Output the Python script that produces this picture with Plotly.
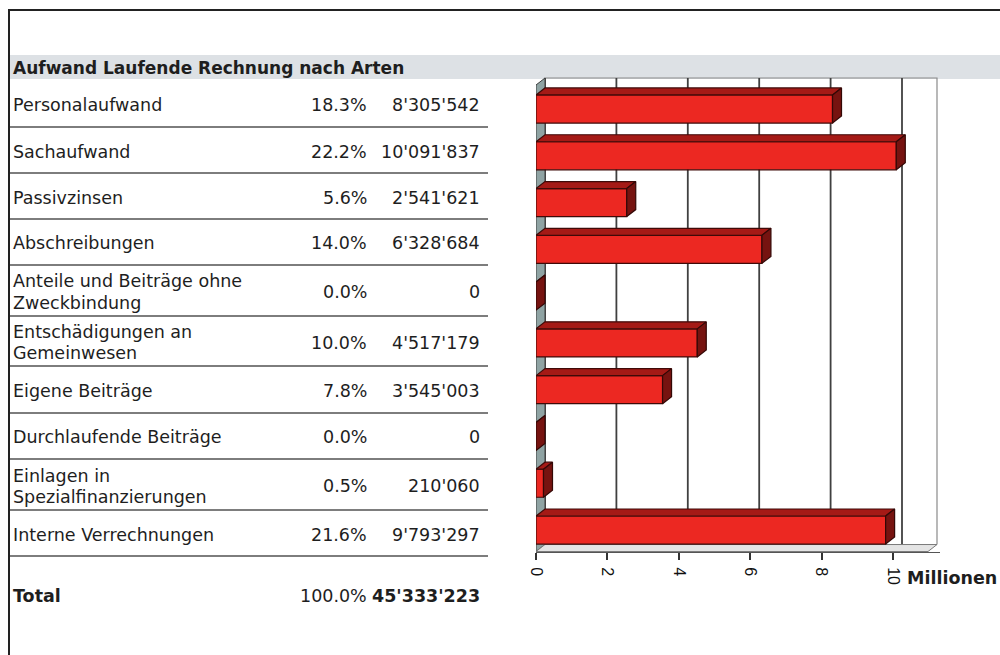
import plotly.graph_objects as go

# ---- data -------------------------------------------------------------
categories = [
    "Personalaufwand",
    "Sachaufwand",
    "Passivzinsen",
    "Abschreibungen",
    "Anteile und Beiträge ohne<br>Zweckbindung",
    "Entschädigungen an<br>Gemeinwesen",
    "Eigene Beiträge",
    "Durchlaufende Beiträge",
    "Einlagen in<br>Spezialfinanzierungen",
    "Interne Verrechnungen",
]
shares = ["18.3%", "22.2%", "5.6%", "14.0%", "0.0%", "10.0%", "7.8%", "0.0%", "0.5%", "21.6%"]
amounts = [8305542, 10091837, 2541621, 6328684, 0, 4517179, 3545003, 0, 210060, 9793297]
total_share = "100.0%"
total_amount = 45333223
tick_values = [0, 2, 4, 6, 8, 10]
title_text = "Aufwand Laufende Rechnung nach Arten"
unit_text = "Millionen"

# ---- page geometry (pixels on a 1000 x 655 page) ----------------------
W, H = 1000, 655


def px(x):
    return x / W


def py(y):
    return 1 - y / H


def fmt(v):
    return f"{v:,}".replace(",", "'")


# chart frame
PLOT_LEFT, PLOT_RIGHT = 536, 940
PLOT_TOP, PLOT_BOTTOM = 77, 552
PX_PER_M = 35.7
ROW0_PX, ROW_PITCH = 109, 46.78

X_MAX = (PLOT_RIGHT - PLOT_LEFT) / PX_PER_M
Y_TOP_RANGE = -(ROW0_PX - PLOT_TOP) / ROW_PITCH
Y_BOT_RANGE = (PLOT_BOTTOM - ROW0_PX) / ROW_PITCH

DX = 9 / PX_PER_M          # depth offset to the right
DY = 7 / ROW_PITCH         # depth offset upwards
BAR_W = 0.6
WALL_TOP = -(ROW0_PX - 78) / ROW_PITCH
FLOOR_FRONT = Y_BOT_RANGE - 0.01
FLOOR_BACK = FLOOR_FRONT - DY
WALL_RIGHT = (937 - PLOT_LEFT) / PX_PER_M

# table geometry
ROW_EDGES = [80, 127, 173, 219, 265, 316, 366, 413, 459, 510, 556]
LABEL_X, SHARE_X, AMOUNT_X = 11, 369, 482
TABLE_FONT = "DejaVu Sans"
TEXT_SIZE = 17.5
LINE_GAP = 21

values_m = [a / 1e6 for a in amounts]
positions = list(range(len(amounts)))

fig = go.Figure()

# front faces of the bars
fig.add_trace(go.Bar(
    x=values_m, y=positions, orientation="h", width=BAR_W,
    marker=dict(color="#ec2822", line=dict(color="#3f0a08", width=1.2)),
    hoverinfo="skip", showlegend=False,
))

# top and side faces of each bar, derived from the same values
top_x, top_y, side_x, side_y = [], [], [], []
for c, m in zip(positions, values_m):
    t, b = c - BAR_W / 2, c + BAR_W / 2
    top_x += [0, m, m + DX, DX, 0, None]
    top_y += [t, t, t - DY, t - DY, t, None]
    side_x += [m, m, m + DX, m + DX, m, None]
    side_y += [t, b, b - DY, t - DY, t, None]

fig.add_trace(go.Scatter(
    x=top_x, y=top_y, mode="lines", fill="toself", fillcolor="#a51a16",
    line=dict(color="#3f0a08", width=1.2), hoverinfo="skip", showlegend=False,
))
fig.add_trace(go.Scatter(
    x=side_x, y=side_y, mode="lines", fill="toself", fillcolor="#761310",
    line=dict(color="#330806", width=1.2), hoverinfo="skip", showlegend=False,
))

shapes = []

# back wall, gridlines, left wall and floor of the chart box
shapes.append(dict(
    type="path", xref="x", yref="y", layer="below",
    path=f"M {DX},{FLOOR_BACK} L {DX},{WALL_TOP} L {WALL_RIGHT},{WALL_TOP} L {WALL_RIGHT},{FLOOR_BACK}",
    line=dict(color="#8a8a8a", width=1.2),
))
for v in tick_values:
    shapes.append(dict(
        type="line", xref="x", yref="y", layer="below",
        x0=v + DX, x1=v + DX, y0=WALL_TOP, y1=FLOOR_BACK,
        line=dict(color="#404040", width=1.8),
    ))
shapes.append(dict(
    type="path", xref="x", yref="y", layer="below",
    path=f"M 0,{WALL_TOP + DY} L {DX},{WALL_TOP} L {DX},{FLOOR_BACK} L 0,{FLOOR_FRONT} Z",
    fillcolor="#8fa3a3", line=dict(color="#3d3d3d", width=1),
))
shapes.append(dict(
    type="path", xref="x", yref="y", layer="below",
    path=(f"M 0,{FLOOR_FRONT} L {DX},{FLOOR_BACK} L {WALL_RIGHT},{FLOOR_BACK} "
          f"L {WALL_RIGHT - DX},{FLOOR_FRONT} Z"),
    fillcolor="#e4e4e4", line=dict(color="#7a7a7a", width=1),
))

# header band
shapes.append(dict(
    type="rect", xref="paper", yref="paper", layer="below",
    x0=px(10), x1=1, y0=py(79), y1=py(55),
    fillcolor="#dde1e5", line=dict(width=0),
))
# table separators
for e in ROW_EDGES[1:]:
    shapes.append(dict(
        type="line", xref="paper", yref="paper",
        x0=px(10), x1=px(488), y0=py(e), y1=py(e),
        line=dict(color="#7d7d7d", width=2),
    ))
# outer frame
shapes.append(dict(type="line", xref="paper", yref="paper",
                   x0=px(8), x1=1, y0=py(10), y1=py(10),
                   line=dict(color="#222222", width=2)))
shapes.append(dict(type="line", xref="paper", yref="paper",
                   x0=px(9), x1=px(9), y0=py(10), y1=0,
                   line=dict(color="#222222", width=2)))


def note(x, y, text, anchor="left", bold=False, size=TEXT_SIZE):
    return dict(
        x=px(x), y=py(y), xref="paper", yref="paper",
        xanchor=anchor, yanchor="middle", showarrow=False,
        text=f"<b>{text}</b>" if bold else text,
        font=dict(family=TABLE_FONT, size=size, color="#1e1e1e"),
    )


annotations = [note(LABEL_X, 68, title_text, bold=True, size=TEXT_SIZE - 0.5)]
for i, (lab, sh, am) in enumerate(zip(categories, shares, amounts)):
    yc = (ROW_EDGES[i] + ROW_EDGES[i + 1]) / 2 + 1.5
    lines = lab.split("<br>")
    first = yc - LINE_GAP * (len(lines) - 1) / 2
    for k, ln in enumerate(lines):
        annotations.append(note(LABEL_X, first + k * LINE_GAP, ln))
    annotations.append(note(SHARE_X, yc, sh, anchor="right"))
    annotations.append(note(AMOUNT_X, yc, fmt(am), anchor="right"))

annotations.append(note(LABEL_X, 596, "Total", bold=True))
annotations.append(note(SHARE_X, 596, total_share, anchor="right"))
annotations.append(note(AMOUNT_X, 596, fmt(total_amount), anchor="right", bold=True))
annotations.append(note(905, 578, unit_text, bold=True, size=TEXT_SIZE))

fig.update_layout(
    template="none",
    width=W, height=H,
    margin=dict(l=0, r=0, t=0, b=0, pad=0),
    paper_bgcolor="white",
    plot_bgcolor="rgba(0,0,0,0)",
    showlegend=False,
    shapes=shapes,
    annotations=annotations,
    xaxis=dict(
        domain=[px(PLOT_LEFT), px(PLOT_RIGHT)],
        range=[0, X_MAX],
        tickvals=tick_values,
        ticktext=[str(v) for v in tick_values],
        tickangle=90,
        ticks="outside", ticklen=7, tickwidth=1.5, tickcolor="#333333",
        ticklabelstandoff=4,
        tickfont=dict(family="Liberation Sans", size=16, color="#111111"),
        showgrid=False, zeroline=False,
        showline=True, linecolor="#555555", linewidth=1,
        automargin=False, fixedrange=True,
    ),
    yaxis=dict(
        domain=[py(PLOT_BOTTOM), py(PLOT_TOP)],
        range=[Y_BOT_RANGE, Y_TOP_RANGE],
        showticklabels=False, ticks="", showgrid=False, zeroline=False,
        showline=False, automargin=False, fixedrange=True,
    ),
)

fig.write_html("out.html", config={"displayModeBar": False})
